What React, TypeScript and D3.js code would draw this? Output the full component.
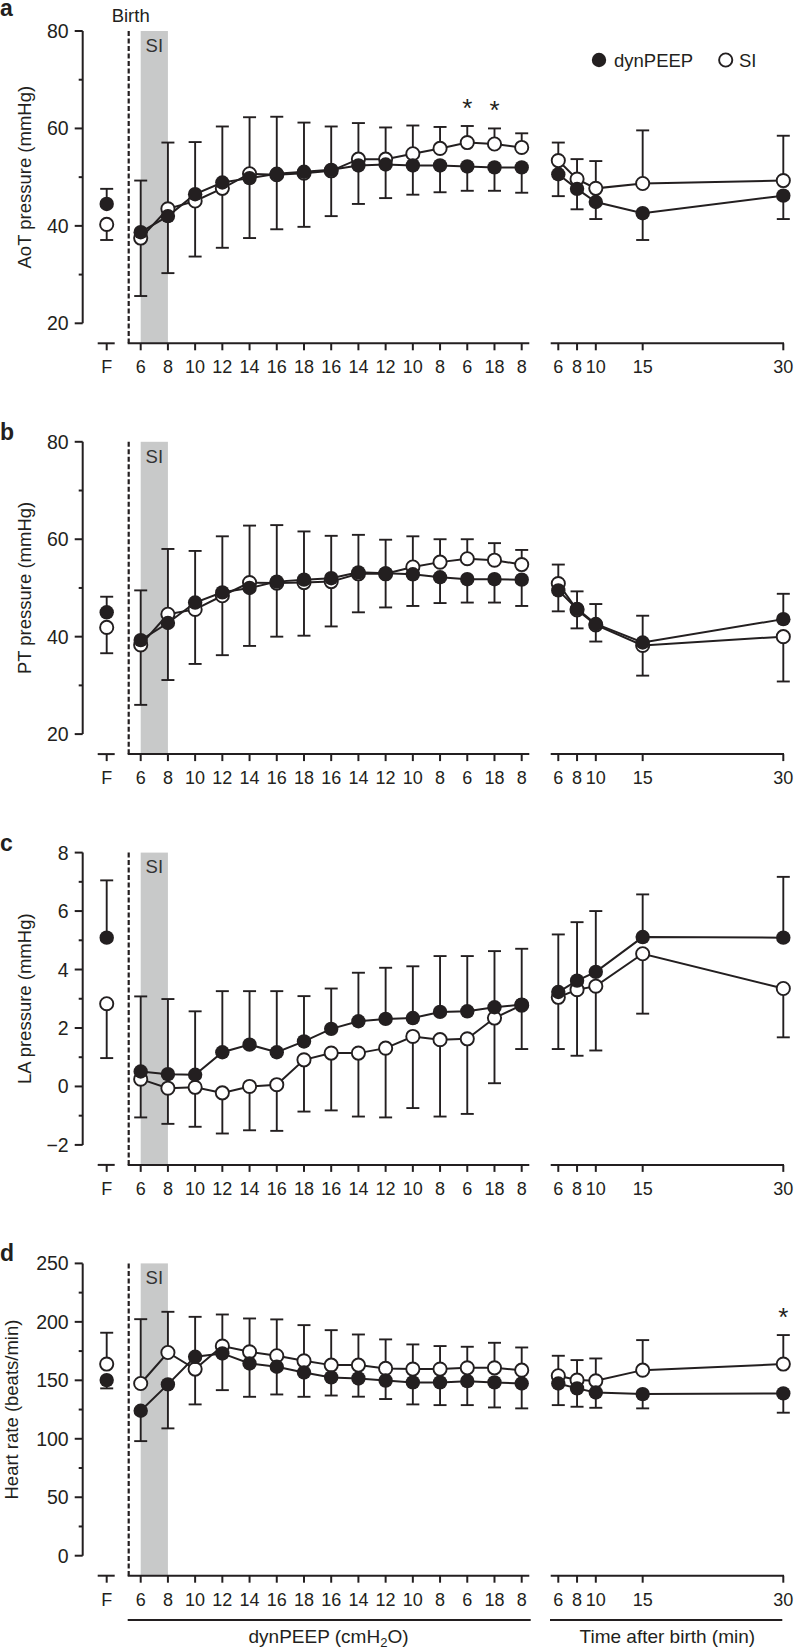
import React from 'react';
import * as d3 from 'd3';

const INK = '#231f20';
const BAND = '#c8c9c9';
const FONT = '"Liberation Sans", Arial, Helvetica, sans-serif';

// x categories: fetal value, dynPEEP manoeuvre steps, minutes after birth
const peepSteps = ['6', '8', '10', '12', '14', '16', '18', '16', '14', '12', '10', '8', '6', '18', '8'];
const timePoints = [6, 8, 10, 15, 30];

// every series is laid out as [F, 15 dynPEEP steps, 5 time points]
const aotDyn = [44.5, 38.7, 42.0, 46.5, 48.9, 49.8, 50.7, 51.1, 51.5, 52.4, 52.6, 52.4, 52.4, 52.2, 52.0, 52.0, 50.6, 47.6, 44.9, 42.6, 46.2];
const aotDynSd = [3.1, 10.6, 11.7, 10.7, 11.5, 12.3, 11.7, 10.1, 8.9, 7.9, 6.9, 6.0, 5.5, 5.0, 4.8, 5.2, 4.5, 4.2, 3.5, 5.5, 4.8];
const aotSi = [40.3, 37.5, 43.5, 45.1, 47.7, 50.7, 50.5, 50.8, 51.3, 53.7, 53.7, 54.8, 55.9, 57.1, 56.8, 56.1, 53.4, 49.6, 47.7, 48.7, 49.3];
const aotSiSd = [3.2, 11.9, 13.6, 11.4, 12.2, 11.6, 11.2, 11.0, 9.3, 7.4, 6.5, 5.8, 4.4, 3.4, 3.2, 2.9, 3.7, 4.1, 5.6, 10.9, 9.2];
const aotStars = [13, 14];

const ptDyn = [45.0, 39.3, 42.8, 47.0, 49.1, 50.0, 51.3, 51.7, 52.0, 53.2, 53.0, 52.8, 52.2, 51.8, 51.8, 51.7, 49.5, 45.7, 42.6, 38.8, 43.6];
const ptDynSd = [3.2, 10.2, 11.7, 10.6, 11.5, 11.9, 11.6, 9.9, 8.7, 7.7, 6.9, 6.5, 5.3, 4.8, 4.8, 5.4, 4.3, 3.6, 4.1, 5.5, 5.2];
const ptSi = [41.9, 38.3, 44.6, 45.6, 48.4, 51.1, 51.0, 51.1, 51.3, 52.9, 52.9, 54.3, 55.3, 56.0, 55.7, 54.8, 50.9, 45.5, 42.4, 38.2, 40.0];
const ptSiSd = [5.3, 12.3, 13.4, 11.2, 12.2, 11.7, 11.0, 10.9, 9.2, 7.9, 6.9, 6.3, 4.7, 4.0, 3.5, 3.0, 3.9, 3.8, 3.4, 6.2, 9.2];

const laDyn = [5.09, 0.51, 0.42, 0.40, 1.17, 1.43, 1.17, 1.54, 1.97, 2.23, 2.31, 2.34, 2.55, 2.57, 2.71, 2.80, 3.23, 3.62, 3.92, 5.11, 5.09];
const laDynSd = [1.96, 2.57, 2.57, 2.17, 2.09, 1.83, 2.09, 1.55, 1.38, 1.66, 1.75, 1.77, 1.91, 1.89, 1.92, 1.91, 1.97, 2.0, 2.08, 1.46, 2.08];
const laSi = [2.83, 0.25, -0.06, -0.03, -0.22, 0.0, 0.06, 0.91, 1.14, 1.14, 1.31, 1.71, 1.60, 1.63, 2.34, 2.78, 3.05, 3.31, 3.43, 4.54, 3.35];
const laSiSd = [1.86, 1.31, 1.22, 1.35, 1.39, 1.50, 1.58, 1.77, 1.96, 2.17, 2.37, 2.45, 2.63, 2.57, 2.23, 1.50, 1.77, 2.26, 2.2, 2.05, 1.67];

const hrDyn = [150.2, 124.0, 146.5, 170.1, 173.0, 164.4, 161.6, 156.7, 152.5, 151.6, 149.8, 148.2, 148.2, 149.3, 148.2, 147.3, 147.3, 143.1, 139.6, 138.2, 138.8];
const hrDynSd = [7.1, 26.0, 37.6, 34.2, 31.4, 28.5, 23.7, 20.8, 15.5, 15.6, 15.8, 18.8, 19.4, 20.5, 21.4, 21.3, 18.5, 15.7, 13.1, 12.2, 16.5];
const hrSi = [163.9, 147.3, 173.8, 159.6, 179.3, 174.4, 171.0, 166.7, 163.0, 163.0, 160.2, 159.6, 159.6, 160.7, 160.7, 158.7, 153.9, 150.2, 149.6, 158.7, 163.9];
const hrSiSd = [26.8, 55.0, 34.8, 30.2, 27.0, 28.5, 31.1, 30.5, 29.9, 26.2, 24.8, 21.1, 19.7, 18.0, 21.4, 19.4, 17.1, 17.1, 19.1, 25.7, 24.8];
const hrStars = [20];

// y axis ticks
const pressureTicks = [20, 40, 60, 80];
const pressureMinor = [30, 50, 70];
const laTicks = [-2, 0, 2, 4, 6, 8];
const laMinor = [-1, 1, 3, 5, 7];
const hrTicks = [0, 50, 100, 150, 200, 250];
const hrMinor = [25, 75, 125, 175, 225];

const panels = [
  { letter: 'a', title: 'AoT pressure (mmHg)', domain: [20, 80], ticks: pressureTicks, minor: pressureMinor, dyn: aotDyn, dynSd: aotDynSd, si: aotSi, siSd: aotSiSd, stars: aotStars, titleX: 31 },
  { letter: 'b', title: 'PT pressure (mmHg)', domain: [20, 80], ticks: pressureTicks, minor: pressureMinor, dyn: ptDyn, dynSd: ptDynSd, si: ptSi, siSd: ptSiSd, stars: [], titleX: 31 },
  { letter: 'c', title: 'LA pressure (mmHg)', domain: [-2, 8], ticks: laTicks, minor: laMinor, dyn: laDyn, dynSd: laDynSd, si: laSi, siSd: laSiSd, stars: [], titleX: 31 },
  { letter: 'd', title: 'Heart rate (beats/min)', domain: [0, 250], ticks: hrTicks, minor: hrMinor, dyn: hrDyn, dynSd: hrDynSd, si: hrSi, siSd: hrSiSd, stars: hrStars, titleX: 18 },
];

// layout
const W = 794;
const H = 1650;
const AXIS_X = 82.7;
const F_X = 106.7;
const BIRTH_X = 128.7;
const PANEL_TOP = 31;
const PANEL_GAP = 410.8;
const PLOT_H = 292.3;
const MAIN_AXIS: [number, number] = [127.7, 529.3];
const TIME_AXIS: [number, number] = [550.7, 784];
const R = 6.6;
const CAP = 6.5;

const stepX = d3.scalePoint<number>().domain(d3.range(peepSteps.length)).range([140.7, 521.7]);
const timeX = d3.scaleLinear().domain([6, 30]).range([558.3, 783.3]);

const xAt = (i: number) => (i === 0 ? F_X : i <= peepSteps.length ? (stepX(i - 1) as number) : timeX(timePoints[i - 1 - peepSteps.length]));

const mainIdx = d3.range(1, 1 + peepSteps.length);
const timeIdx = d3.range(1 + peepSteps.length, 1 + peepSteps.length + timePoints.length);
const allIdx = d3.range(0, 1 + peepSteps.length + timePoints.length);

const fmt = (v: number) => (v < 0 ? `\u2212${Math.abs(v)}` : `${v}`);

const Panel = ({ cfg, k }: { cfg: any; k: number }) => {
  const top = PANEL_TOP + k * PANEL_GAP;
  const bottom = top + PLOT_H;
  const base = bottom + 20;
  const y = d3.scaleLinear().domain(cfg.domain).range([bottom, top]);

  const lineOf = (vals: number[]) => d3.line<number>().x(i => xAt(i)).y(i => y(vals[i]));

  // the higher series gets the upward bar, the lower one the downward bar
  const bars = (vals: number[], sd: number[], other: number[], upper: boolean) =>
    allIdx.map(i => {
      const up = upper ? vals[i] >= other[i] : vals[i] > other[i];
      const end = vals[i] + (up ? sd[i] : -sd[i]);
      const x = xAt(i);
      return (
        <g key={i}>
          <line x1={x} x2={x} y1={y(vals[i])} y2={y(end)} />
          <line x1={x - CAP} x2={x + CAP} y1={y(end)} y2={y(end)} />
        </g>
      );
    });

  const starY = (i: number) => {
    const hi = Math.max(cfg.dyn[i] + cfg.dynSd[i], cfg.si[i] + cfg.siSd[i]);
    return y(hi) - 9;
  };

  return (
    <g>
      <text x={0} y={k === 0 ? 16 : top - 2} fontSize={23} fontWeight="bold" fill={INK}>{cfg.letter}</text>

      {/* sustained inflation band */}
      <rect x={stepX(0)} y={top} width={(stepX(1) as number) - (stepX(0) as number)} height={base - top} fill={BAND} />
      <text x={((stepX(0) as number) + (stepX(1) as number)) / 2} y={top + 20.7} textAnchor="middle" fontSize={18.5} fill="#333">SI</text>

      {/* birth marker */}
      <line x1={BIRTH_X} x2={BIRTH_X} y1={top} y2={base} stroke={INK} strokeWidth={2.2} strokeDasharray="5,2.5" />
      {k === 0 && <text x={BIRTH_X + 2} y={21.5} textAnchor="middle" fontSize={18.5} fill={INK}>Birth</text>}

      {/* y axis */}
      <g stroke={INK} strokeWidth={2}>
        <line x1={AXIS_X} x2={AXIS_X} y1={y(cfg.domain[0])} y2={y(cfg.domain[1])} />
        {cfg.ticks.map((t: number) => <line key={t} x1={AXIS_X - 8} x2={AXIS_X} y1={y(t)} y2={y(t)} />)}
        {cfg.minor.map((t: number) => <line key={t} x1={AXIS_X - 4} x2={AXIS_X} y1={y(t)} y2={y(t)} />)}
      </g>
      {cfg.ticks.map((t: number) => (
        <text key={t} x={AXIS_X - 14} y={y(t)} dy="0.36em" textAnchor="end" fontSize={19.5} fill={INK}>{fmt(t)}</text>
      ))}
      <text transform={`translate(${cfg.titleX},${(top + bottom) / 2}) rotate(-90)`} textAnchor="middle" fontSize={18.5} fill={INK}>{cfg.title}</text>

      {/* x axes */}
      <g stroke={INK} strokeWidth={2}>
        <line x1={F_X - 9} x2={F_X + 8} y1={base} y2={base} />
        <line x1={MAIN_AXIS[0]} x2={MAIN_AXIS[1]} y1={base} y2={base} />
        <line x1={TIME_AXIS[0]} x2={TIME_AXIS[1]} y1={base} y2={base} />
        {allIdx.map(i => <line key={i} x1={xAt(i)} x2={xAt(i)} y1={base} y2={base + 7} />)}
      </g>
      <g fontSize={18} fill={INK} textAnchor="middle">
        <text x={F_X} y={base + 30}>F</text>
        {peepSteps.map((s, j) => <text key={j} x={stepX(j)} y={base + 30}>{s}</text>)}
        {timePoints.map(t => <text key={t} x={timeX(t)} y={base + 30}>{t}</text>)}
      </g>

      {/* error bars */}
      <g stroke={INK} strokeWidth={1.9}>
        {bars(cfg.si, cfg.siSd, cfg.dyn, false)}
        {bars(cfg.dyn, cfg.dynSd, cfg.si, true)}
      </g>

      {/* connecting lines */}
      <g fill="none" stroke={INK} strokeWidth={2}>
        <path d={lineOf(cfg.si)(mainIdx) || ''} />
        <path d={lineOf(cfg.si)(timeIdx) || ''} />
        <path d={lineOf(cfg.dyn)(mainIdx) || ''} />
        <path d={lineOf(cfg.dyn)(timeIdx) || ''} />
      </g>

      {/* markers: SI open, dynPEEP filled */}
      {allIdx.map(i => (
        <circle key={`s${i}`} cx={xAt(i)} cy={y(cfg.si[i])} r={R} fill="#fff" stroke={INK} strokeWidth={1.9} />
      ))}
      {allIdx.map(i => (
        <circle key={`d${i}`} cx={xAt(i)} cy={y(cfg.dyn[i])} r={R + 0.6} fill={INK} />
      ))}

      {cfg.stars.map((i: number) => (
        <text key={i} x={xAt(i)} y={starY(i)} textAnchor="middle" fontSize={26} fill={INK}>*</text>
      ))}

      {k === 0 && (
        <g fontSize={18.5} fill={INK}>
          <circle cx={599} cy={60} r={R + 0.6} fill={INK} />
          <text x={614} y={66.5}>dynPEEP</text>
          <circle cx={725.7} cy={60} r={R} fill="#fff" stroke={INK} strokeWidth={1.9} />
          <text x={739} y={66.5}>SI</text>
        </g>
      )}
    </g>
  );
};

export default function App() {
  const lastBase = PANEL_TOP + 3 * PANEL_GAP + PLOT_H + 20;
  const underY = lastBase + 44.3;
  return (
    <svg width={W} height={H} viewBox={`0 0 ${W} ${H}`} style={{ position: 'absolute', left: 0, top: 0, background: '#fff' }} fontFamily={FONT}>
      <rect width={W} height={H} fill="#fff" />
      {panels.map((cfg, k) => <Panel key={cfg.letter} cfg={cfg} k={k} />)}
      <g stroke={INK} strokeWidth={2}>
        <line x1={MAIN_AXIS[0]} x2={MAIN_AXIS[1] + 1.4} y1={underY} y2={underY} />
        <line x1={TIME_AXIS[0] - 0.7} x2={TIME_AXIS[1] - 1.7} y1={underY} y2={underY} />
      </g>
      <text x={(MAIN_AXIS[0] + MAIN_AXIS[1]) / 2} y={underY + 23} textAnchor="middle" fontSize={19} fill={INK}>
        dynPEEP (cmH<tspan dy={4} fontSize={13}>2</tspan><tspan dy={-4}>O)</tspan>
      </text>
      <text x={(TIME_AXIS[0] + TIME_AXIS[1]) / 2} y={underY + 23} textAnchor="middle" fontSize={19} fill={INK}>
        Time after birth (min)
      </text>
    </svg>
  );
}
